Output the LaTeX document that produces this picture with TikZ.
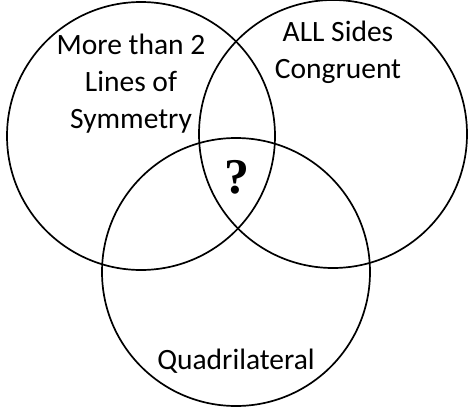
\documentclass[tikz,border=0pt]{standalone}
\usepackage{fontspec}
\setmainfont{Carlito}
\newfontfamily\qfont{Liberation Serif}
\begin{document}
\begin{tikzpicture}[x=1pt,y=-1pt,
  setcircle/.style={draw=black,line width=1.7pt,circle,minimum size=268pt,inner sep=0pt},
  setlabel/.style={align=center,inner sep=0pt,font=\fontsize{29.5}{37}\selectfont}]
\useasboundingbox (0,0) rectangle (474,412);
\node[setcircle] (L) at (141,136) {};
\node[setcircle] (R) at (333,134) {};
\node[setcircle] (B) at (236,272) {};
\node[setlabel] (tL) at (131,84) {More than 2\\Lines of\\Symmetry};
\node[setlabel] (tR) at (338,52) {ALL Sides\\Congruent};
\node[setlabel] (tB) at (236,361) {Quadrilateral};
\node[inner sep=0pt,font=\qfont\bfseries\fontsize{50}{50}\selectfont] (q) at (237,177) {?};
\end{tikzpicture}
\end{document}
